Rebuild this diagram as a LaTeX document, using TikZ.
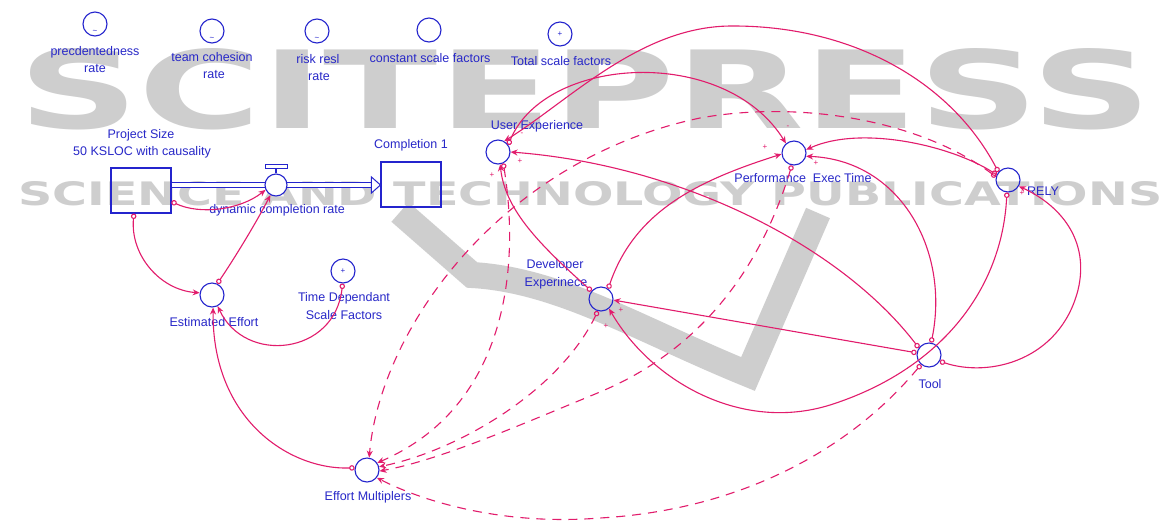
\documentclass[tikz,border=0pt]{standalone}
\usepackage{fontspec}
\setmainfont{Liberation Sans}
\newfontfamily\wmfont{DejaVu Sans}
\usetikzlibrary{arrows.meta,calc}
\definecolor{vblue}{RGB}{36,36,205}
\definecolor{vtext}{RGB}{40,40,200}
\definecolor{vlink}{RGB}{226,28,108}
\definecolor{wm}{RGB}{206,206,206}
\begin{document}
\begin{tikzpicture}[x=1pt,y=-1pt,
  aux/.style={circle, draw=vblue, line width=1.1pt, minimum size=24pt, inner sep=0pt},
  lbl/.style={text=vtext, font=\fontsize{12.5}{15}\selectfont, inner sep=0pt, anchor=base},
  stockbox/.style={draw=vblue, line width=1.1pt, minimum width=60pt, minimum height=45pt, inner sep=0pt},
  link/.style={draw=vlink, line width=1.1pt, arrows={Circle[open,length=5.5pt,width=5.5pt]-Stealth[length=7pt,width=6pt]}},
  dlink/.style={link, dash pattern=on 9pt off 7pt},
  sign/.style={text=vlink, font=\fontsize{8}{8}\selectfont, inner sep=0pt},
  innermark/.style={text=vblue, font=\fontsize{8}{8}\selectfont, inner sep=0pt},
  wmark/.style={text=wm, inner sep=0pt, anchor=south west}]
\useasboundingbox (0,0) rectangle (1166,523);
\fill[white] (0,0) rectangle (1166,523);
% watermark
\node[wmark] (wm1) at (18,130) {\resizebox{1132pt}{80pt}{\wmfont\bfseries SCITEPRESS}};
\node[wmark] (wm2) at (18,206) {\resizebox{1144pt}{24pt}{\wmfont\bfseries SCIENCE AND TECHNOLOGY PUBLICATIONS}};
\draw[wm, line width=26pt, line join=miter] (400,212) -- (472,275) .. controls (560,280) and (640,330) .. (748,374) -- (818,213);

% constants
\node[aux] (pr) at (95,24) {};
\node[aux] (tc) at (212,31) {};
\node[aux] (rr) at (317,31) {};
\node[aux] (csf) at (429,30) {};
\node[aux] (tsf) at (560,34) {};
\node[innermark] (pr-t) at (95,32) {\textasciitilde};
\node[innermark] (tc-t) at (212,39) {\textasciitilde};
\node[innermark] (rr-t) at (317,39) {\textasciitilde};
\node[innermark] (tsf-p) at (560,34) {+};
\node[lbl] (lpr1) at (95,55) {precdentedness};
\node[lbl] (lpr2) at (95,72) {rate};
\node[lbl] (ltc1) at (212,61) {team cohesion};
\node[lbl] (ltc2) at (214,78) {rate};
\node[lbl] (lrr1) at (318,63) {risk resl};
\node[lbl] (lrr2) at (319,80) {rate};
\node[lbl] (lcsf) at (430,62) {constant scale factors};
\node[lbl] (ltsf) at (561,65) {Total scale factors};

% stocks and flow
\node[stockbox] (ps) at (141,190.5) {};
\node[stockbox] (comp) at (411,184.5) {};
\node[lbl] (lps1) at (141,138) {Project Size};
\node[lbl] (lps2) at (142,155) {50 KSLOC with causality};
\node[lbl] (lcomp) at (411,148) {Completion 1};
\coordinate (vc) at (276,185);
\draw[vblue, line width=1pt, double distance=4.5pt] (ps.east |- vc) -- ($(comp.west |- vc)+(-9,0)$);
\draw[vblue, line width=1pt, fill=white] ($(comp.west |- vc)+(-9,-8)$) -- (comp.west |- vc) -- ($(comp.west |- vc)+(-9,8)$) -- cycle;
\node[aux, minimum size=22pt, fill=white] (valve) at (vc) {};
\draw[vblue, line width=1.1pt] (valve.north) -- ++(0,-5);
\draw[vblue, line width=1pt, fill=white] ($(valve.north)+(-11,-5)$) rectangle ($(valve.north)+(11,-8.5)$);
\node[lbl] (lvalve) at (277,213) {dynamic completion rate};

% left auxiliaries
\node[aux] (ee) at (212,295) {};
\node[aux] (tdsf) at (343,271) {};
\node[innermark] (tdsf-p) at (343,271) {+};
\node[aux] (em) at (367,470) {};
\node[lbl] (lee) at (214,326) {Estimated Effort};
\node[lbl] (ltd1) at (344,301) {Time Dependant};
\node[lbl] (ltd2) at (344,319) {Scale Factors};
\node[lbl] (lem) at (368,500) {Effort Multiplers};

% right cluster
\node[aux] (ue) at (498,152) {};
\node[aux] (perf) at (794,153) {};
\node[aux] (rely) at (1008,180) {};
\node[aux] (dev) at (601,299) {};
\node[aux] (tool) at (929,355) {};
\node[lbl] (lue) at (537,129) {User Experience};
\node[lbl] (lperf) at (803,182) {Performance\hspace{3.5pt} Exec Time};
\node[lbl] (lrely) at (1043,195) {RELY};
\node[lbl] (ldev1) at (555,268) {Developer};
\node[lbl] (ldev2) at (556,286) {Experinece};
\node[lbl] (ltool) at (930,388) {Tool};

% solid links
\draw[link] (ps.-20) .. controls (200,215) and (240,210) .. (valve.-155);
\draw[link] (ps.-107) .. controls (130,255) and (160,290) .. (ee.170);
\draw[link] (ee.65) .. controls (232,262) and (255,225) .. (valve.-119);
\draw[link] (tdsf.-92) .. controls (335,355) and (245,365) .. (ee.-63);
\draw[link] (em.170) .. controls (290,470) and (212,420) .. (ee.-85);

\draw[link] (rely.140) .. controls (950,80) and (850,25) .. (730,26) .. controls (640,27) and (570,100) .. (ue.60);
\draw[link] (ue.35) .. controls (545,55) and (725,45) .. (perf.130);
\draw[link] (rely.155) .. controls (950,145) and (860,125) .. (perf.15);
\draw[link] (tool.80) .. controls (950,250) and (900,160) .. (perf.-15);
\draw[link] (tool.145) .. controls (840,245) and (680,165) .. (ue.0);
\draw[link] (tool.170) -- (dev.-5);
\draw[link] (rely.-95) .. controls (1002,290) and (940,370) .. (830,405) .. controls (740,433) and (650,380) .. (dev.-50);
\draw[link] (tool.-30) .. controls (990,378) and (1060,360) .. (1078,290) .. controls (1090,240) and (1060,205) .. (rely.-30);
\draw[link] (dev.140) .. controls (540,245) and (505,210) .. (ue.-80);
\draw[link] (dev.55) .. controls (635,210) and (700,180) .. (perf.185);

% dashed links
\draw[dlink] (rely.165) .. controls (920,120) and (800,100) .. (700,118) .. controls (500,160) and (380,330) .. (em.80);
\draw[dlink] (ue.-65) .. controls (522,280) and (500,410) .. (em.35);
\draw[dlink] (dev.-105) .. controls (560,390) and (460,450) .. (em.15);
\draw[dlink] (perf.-100) .. controls (760,270) and (700,350) .. (600,392) .. controls (520,425) and (440,460) .. (em.-5);
\draw[dlink] (tool.-130) .. controls (850,450) and (740,510) .. (600,518) .. controls (500,526) and (420,500) .. (em.-38);

% polarity signs
\node[sign] (s1) at (520,161) {+};
\node[sign] (s2) at (492,175) {+};
\node[sign] (s3) at (522,134) {-};
\node[sign] (s4) at (765,147) {+};
\node[sign] (s5) at (816,163) {+};
\node[sign] (s6) at (788,127) {-};
\node[sign] (s7) at (621,310) {+};
\node[sign] (s8) at (606,326) {+};
\node[sign] (s9) at (1022,193) {+};
\end{tikzpicture}
\end{document}
